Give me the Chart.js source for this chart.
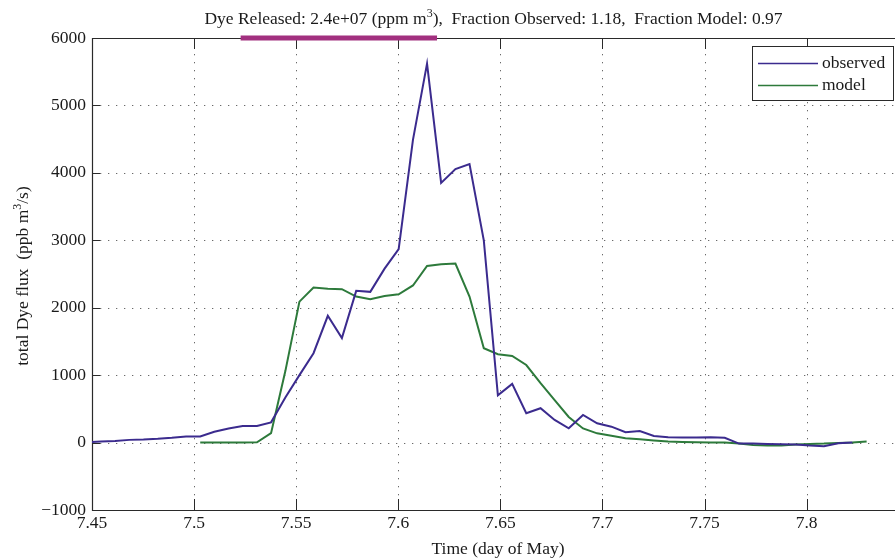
<!DOCTYPE html>
<html>
<head>
<meta charset="utf-8">
<script src="https://cdn.jsdelivr.net/npm/chart.js@4.4.1/dist/chart.umd.min.js"></script>
<style>
  html, body { margin: 0; padding: 0; background: #fff; }
  #wrap { width: 895px; height: 559px; position: relative; }
</style>
</head>
<body>
<div id="wrap"><canvas id="dyeChart" width="895" height="559"></canvas></div>
<script>
// time of each sample (day of May), 10 minute spacing
const times = [
  7.4474, 7.4544, 7.4613, 7.4683, 7.4752, 7.4822, 7.4891, 7.4961,
  7.5030, 7.5099, 7.5169, 7.5238, 7.5308, 7.5377, 7.5447, 7.5516,
  7.5585, 7.5655, 7.5724, 7.5794, 7.5863, 7.5933, 7.6002, 7.6072,
  7.6141, 7.6210, 7.6280, 7.6349, 7.6419, 7.6488, 7.6558, 7.6627,
  7.6697, 7.6766, 7.6835, 7.6905, 7.6974, 7.7044, 7.7113, 7.7183,
  7.7252, 7.7322, 7.7391, 7.7460, 7.7530, 7.7599, 7.7669, 7.7738,
  7.7808, 7.7877, 7.7947, 7.8016, 7.8085, 7.8155, 7.8224, 7.8294
];

// total dye flux (ppb m^3/s)
const observed = [
  5, 15, 25, 40, 45, 55, 70, 90,
  90, 160, 210, 245, 245, 300, 670, 1000,
  1325, 1880, 1550, 2250, 2235, 2580, 2870, 4490,
  5620, 3850, 4055, 4130, 3000, 700, 870, 435,
  510, 335, 212, 410, 286, 236, 153, 172,
  98, 80, 75, 75, 80, 70, -15, -15,
  -20, -25, -30, -45, -55, -10, 0, null
];

const model = [
  null, null, null, null, null, null, null, null,
  0, 0, 0, 0, 5, 140, 1060, 2090,
  2300, 2280, 2275, 2165, 2125, 2175, 2200, 2330,
  2620, 2645, 2655, 2165, 1400, 1310, 1285, 1150,
  880, 630, 380, 210, 137, 100, 64, 49,
  30, 15, 8, 5, 2, 0, -15, -35,
  -45, -45, -30, -20, -15, -5, 0, 15
];

// dye release period (drawn along the top of the axes)
const releaseTimes = [7.5228, 7.6190];
const releaseLevel = [6000, 6000];

const xTicks = [7.45, 7.5, 7.55, 7.6, 7.65, 7.7, 7.75, 7.8];
const yTicks = [-1000, 0, 1000, 2000, 3000, 4000, 5000, 6000];

const seriesNames = ['observed', 'model'];
const COL_OBS = '#3b2b8e';
const COL_MOD = '#2d7a3b';
const COL_REL = '#a2307f';
const SERIF = '"Liberation Serif", "DejaVu Serif", serif';

// draws text with a superscript part: parts = [[text, isSup], ...]
function drawRich(ctx, parts, x, y, size, align) {
  const widths = parts.map(p => {
    ctx.font = (p[1] ? Math.round(size * 0.7) : size) + 'px ' + SERIF;
    return ctx.measureText(p[0]).width;
  });
  const total = widths.reduce((a, b) => a + b, 0);
  let cx = align === 'center' ? x - total / 2 : x;
  ctx.textAlign = 'left';
  ctx.textBaseline = 'alphabetic';
  parts.forEach((p, i) => {
    ctx.font = (p[1] ? Math.round(size * 0.7) : size) + 'px ' + SERIF;
    ctx.fillText(p[0], cx, p[1] ? y - size * 0.42 : y);
    cx += widths[i];
  });
}

const decorPlugin = {
  id: 'decor',
  beforeDatasetsDraw(chart) {
    const { ctx, chartArea: a, scales } = chart;
    ctx.save();
    // dotted grid
    ctx.strokeStyle = '#6a6a6a';
    ctx.lineWidth = 1;
    ctx.setLineDash([1.3, 6.7]);
    xTicks.forEach(v => {
      const px = Math.round(scales.x.getPixelForValue(v)) + 0.5;
      if (px <= a.left + 1) return;
      ctx.beginPath(); ctx.moveTo(px, a.top); ctx.lineTo(px, a.bottom); ctx.stroke();
    });
    yTicks.forEach(v => {
      const py = Math.round(scales.y.getPixelForValue(v)) + 0.5;
      if (py <= a.top + 1 || py >= a.bottom - 1) return;
      ctx.beginPath(); ctx.moveTo(a.left, py); ctx.lineTo(a.right, py); ctx.stroke();
    });
    ctx.setLineDash([]);
    // axes frame
    ctx.strokeStyle = '#2a2a2a';
    ctx.lineWidth = 1.2;
    ctx.beginPath();
    ctx.moveTo(a.right, a.top + 0.5); ctx.lineTo(a.left + 0.5, a.top + 0.5);
    ctx.lineTo(a.left + 0.5, a.bottom + 0.5); ctx.lineTo(a.right, a.bottom + 0.5);
    ctx.stroke();
    // inward ticks
    ctx.lineWidth = 1;
    xTicks.forEach(v => {
      const px = Math.round(scales.x.getPixelForValue(v)) + 0.5;
      ctx.beginPath(); ctx.moveTo(px, a.bottom); ctx.lineTo(px, a.bottom - 11); ctx.stroke();
      ctx.beginPath(); ctx.moveTo(px, a.top); ctx.lineTo(px, a.top + 11); ctx.stroke();
    });
    yTicks.forEach(v => {
      const py = Math.round(scales.y.getPixelForValue(v)) + 0.5;
      ctx.beginPath(); ctx.moveTo(a.left, py); ctx.lineTo(a.left + 8, py); ctx.stroke();
    });
    ctx.restore();
  },
  afterDraw(chart) {
    const { ctx, chartArea: a } = chart;
    ctx.save();
    ctx.fillStyle = '#1a1a1a';
    // title
    drawRich(ctx, [
      ['Dye Released: 2.4e+07 (ppm m', false], ['3', true],
      ['),  Fraction Observed: 1.18,  Fraction Model: 0.97', false]
    ], (a.left + a.right) / 2, 24, 17.5, 'center');
    // x label
    ctx.font = '17.5px ' + SERIF;
    ctx.textAlign = 'center';
    ctx.textBaseline = 'alphabetic';
    ctx.fillText('Time (day of May)', 498, 554);
    // y label
    ctx.save();
    ctx.translate(28, (a.top + a.bottom) / 2 + 2);
    ctx.rotate(-Math.PI / 2);
    drawRich(ctx, [['total Dye flux  (ppb m', false], ['3', true], ['/s)', false]], 0, 0, 17.5, 'center');
    ctx.restore();
    // legend
    const lx = 752, ly = 46, lw = 141, lh = 54;
    ctx.fillStyle = '#fff';
    ctx.fillRect(lx, ly, lw, lh);
    ctx.strokeStyle = '#2a2a2a';
    ctx.lineWidth = 1;
    ctx.strokeRect(lx + 0.5, ly + 0.5, lw, lh);
    [COL_OBS, COL_MOD].forEach((c, i) => {
      const yy = ly + 17 + i * 22;
      ctx.strokeStyle = c;
      ctx.lineWidth = 1.6;
      ctx.beginPath(); ctx.moveTo(lx + 6, yy + 0.5); ctx.lineTo(lx + 66, yy + 0.5); ctx.stroke();
      ctx.fillStyle = '#1a1a1a';
      ctx.font = '17.5px ' + SERIF;
      ctx.textAlign = 'left';
      ctx.textBaseline = 'middle';
      ctx.fillText(seriesNames[i], lx + 70, yy);
    });
    ctx.restore();
  }
};

new Chart(document.getElementById('dyeChart').getContext('2d'), {
  type: 'line',
  data: {
    datasets: [
      {
        label: seriesNames[0],
        data: times.map((t, i) => ({ x: t, y: observed[i] })),
        borderColor: COL_OBS,
        borderWidth: 2,
        pointRadius: 0,
        tension: 0
      },
      {
        label: seriesNames[1],
        data: times.map((t, i) => ({ x: t, y: model[i] })),
        borderColor: COL_MOD,
        borderWidth: 2,
        pointRadius: 0,
        tension: 0
      },
      {
        label: 'release',
        data: releaseTimes.map((t, i) => ({ x: t, y: releaseLevel[i] })),
        borderColor: COL_REL,
        borderWidth: 5,
        borderCapStyle: 'butt',
        pointRadius: 0,
        clip: false
      }
    ]
  },
  options: {
    responsive: false,
    animation: false,
    devicePixelRatio: 1,
    layout: { padding: { top: 38, right: 0, bottom: 0, left: 0 } },
    plugins: { legend: { display: false }, tooltip: { enabled: false }, title: { display: false } },
    scales: {
      x: {
        type: 'linear',
        min: 7.45,
        max: 7.8433,
        grid: { display: false, drawTicks: false },
        border: { display: false },
        afterBuildTicks: s => { s.ticks = xTicks.map(v => ({ value: v })); },
        afterFit: s => { s.height = 49; },
        ticks: {
          padding: 3,
          maxRotation: 0,
          color: '#1a1a1a',
          font: { family: SERIF, size: 17.5 },
          callback: v => String(Math.round(v * 100) / 100)
        }
      },
      y: {
        min: -1000,
        max: 6000,
        grid: { display: false, drawTicks: false },
        border: { display: false },
        afterBuildTicks: s => { s.ticks = yTicks.map(v => ({ value: v })); },
        afterFit: s => { s.width = 92; },
        ticks: {
          padding: 6,
          color: '#1a1a1a',
          font: { family: SERIF, size: 17.5 },
          callback: v => String(v).replace('-', '\u2212')
        }
      }
    }
  },
  plugins: [decorPlugin]
});
</script>
</body>
</html>
